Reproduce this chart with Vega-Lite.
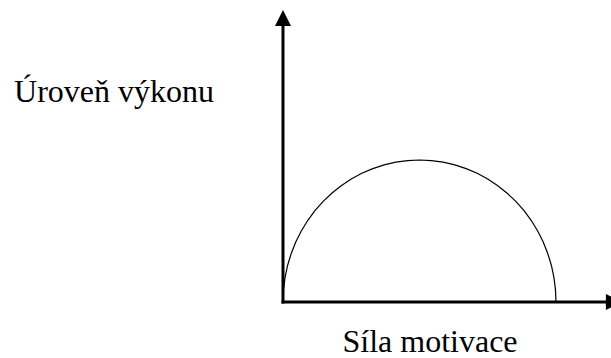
{
  "$schema": "https://vega.github.io/schema/vega-lite/v6.json",
  "width": 611,
  "height": 358,
  "padding": 0,
  "autosize": "none",
  "background": "white",
  "config": {"view": {"stroke": null}},
  "datasets": {
    "curve": [
      {"motivace": 0, "vykon": 0},
      {"motivace": 0.019, "vykon": 0.436},
      {"motivace": 0.076, "vykon": 0.868},
      {"motivace": 0.170, "vykon": 1.294},
      {"motivace": 0.302, "vykon": 1.710},
      {"motivace": 0.468, "vykon": 2.113},
      {"motivace": 0.670, "vykon": 2.5},
      {"motivace": 0.904, "vykon": 2.868},
      {"motivace": 1.170, "vykon": 3.214},
      {"motivace": 1.464, "vykon": 3.536},
      {"motivace": 1.786, "vykon": 3.830},
      {"motivace": 2.132, "vykon": 4.096},
      {"motivace": 2.5, "vykon": 4.330},
      {"motivace": 2.887, "vykon": 4.532},
      {"motivace": 3.290, "vykon": 4.698},
      {"motivace": 3.706, "vykon": 4.830},
      {"motivace": 4.132, "vykon": 4.924},
      {"motivace": 4.564, "vykon": 4.981},
      {"motivace": 5, "vykon": 5},
      {"motivace": 5.436, "vykon": 4.981},
      {"motivace": 5.868, "vykon": 4.924},
      {"motivace": 6.294, "vykon": 4.830},
      {"motivace": 6.710, "vykon": 4.698},
      {"motivace": 7.113, "vykon": 4.532},
      {"motivace": 7.5, "vykon": 4.330},
      {"motivace": 7.868, "vykon": 4.096},
      {"motivace": 8.214, "vykon": 3.830},
      {"motivace": 8.536, "vykon": 3.536},
      {"motivace": 8.830, "vykon": 3.214},
      {"motivace": 9.096, "vykon": 2.868},
      {"motivace": 9.330, "vykon": 2.5},
      {"motivace": 9.532, "vykon": 2.113},
      {"motivace": 9.698, "vykon": 1.710},
      {"motivace": 9.830, "vykon": 1.294},
      {"motivace": 9.924, "vykon": 0.868},
      {"motivace": 9.981, "vykon": 0.436},
      {"motivace": 10, "vykon": 0}
    ],
    "axes": [
      {"osa": "y", "x": 0, "y": 0, "x2": 0, "y2": 10},
      {"osa": "x", "x": 0, "y": 0, "x2": 12.12, "y2": 0}
    ],
    "arrows": [
      {"dir": "up", "x": 0, "y": 10},
      {"dir": "right", "x": 12.12, "y": 0}
    ],
    "labels": [
      {"text": "Úroveň výkonu", "x": -6.19, "y": 7.04},
      {"text": "Síla motivace", "x": 5.385, "y": -1.76}
    ]
  },
  "layer": [
    {
      "data": {"name": "axes"},
      "mark": {"type": "rule", "color": "black", "strokeWidth": 3, "strokeCap": "square"},
      "encoding": {
        "x": {"field": "x", "type": "quantitative", "scale": {"domain": [-10.366, 12.015], "nice": false, "zero": false}, "axis": null},
        "y": {"field": "y", "type": "quantitative", "scale": {"domain": [-1.972, 10.634], "nice": false, "zero": false}, "axis": null},
        "x2": {"field": "x2"},
        "y2": {"field": "y2"}
      }
    },
    {
      "data": {"name": "curve"},
      "mark": {"type": "line", "color": "black", "strokeWidth": 1.2},
      "encoding": {
        "x": {"field": "motivace", "type": "quantitative", "axis": null},
        "y": {"field": "vykon", "type": "quantitative", "axis": null}
      }
    },
    {
      "data": {"name": "arrows"},
      "mark": {"type": "point", "filled": true, "color": "black", "size": 256, "opacity": 1, "strokeWidth": 0},
      "encoding": {
        "x": {"field": "x", "type": "quantitative", "axis": null},
        "y": {"field": "y", "type": "quantitative", "axis": null},
        "shape": {"field": "dir", "type": "nominal", "legend": null, "scale": {"domain": ["up", "right"], "range": ["M0,-1L1,1L-1,1Z", "M1,0L-1,-1L-1,1Z"]}}
      }
    },
    {
      "data": {"name": "labels"},
      "mark": {"type": "text", "font": "Liberation Serif", "fontSize": 32, "color": "black", "align": "center", "baseline": "alphabetic"},
      "encoding": {
        "x": {"field": "x", "type": "quantitative", "axis": null},
        "y": {"field": "y", "type": "quantitative", "axis": null},
        "text": {"field": "text", "type": "nominal"}
      }
    }
  ]
}
